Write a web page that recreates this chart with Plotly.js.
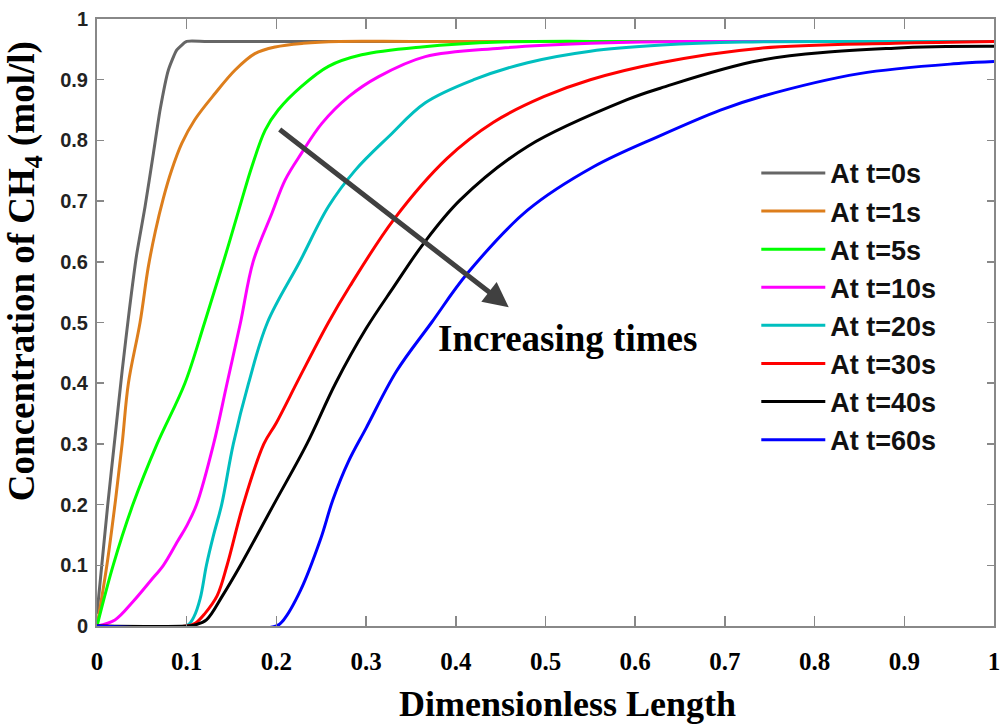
<!DOCTYPE html>
<html>
<head>
<meta charset="utf-8">
<script src="https://cdn.plot.ly/plotly-3.0.1.min.js"></script>
<style>html,body{margin:0;padding:0;background:#fff;}#chart{width:1003px;height:726px;}</style>
</head>
<body>
<div id="chart"></div>
<script>
// Series names
const seriesNames = ["At t=0s", "At t=1s", "At t=5s", "At t=10s", "At t=20s", "At t=30s", "At t=40s", "At t=60s"];

// t = 0 s
const x_t0 = [0, 0.004, 0.012, 0.02, 0.028, 0.036, 0.044, 0.0536, 0.0629, 0.0703, 0.0796, 0.089, 0.1, 0.12, 0.2, 0.4, 0.7, 1];
const y_t0 = [0.02, 0.08, 0.2, 0.31, 0.42, 0.52, 0.61, 0.691, 0.779, 0.85, 0.916, 0.949, 0.963, 0.963, 0.963, 0.963, 0.963, 0.963];
// t = 1 s
const x_t1 = [0, 0.011, 0.02, 0.028, 0.035, 0.048, 0.057, 0.065, 0.074, 0.083, 0.0945, 0.109, 0.132, 0.154, 0.176, 0.1987, 0.23, 0.27, 0.35, 0.5, 0.75, 1];
const y_t1 = [0, 0.1, 0.2, 0.3, 0.4, 0.5, 0.59, 0.65, 0.705, 0.75, 0.795, 0.834, 0.878, 0.916, 0.943, 0.954, 0.96, 0.963, 0.963, 0.963, 0.963, 0.963];
// t = 5 s
const x_t5 = [0, 0.018, 0.04, 0.067, 0.098, 0.12, 0.141, 0.161, 0.1727, 0.1875, 0.202, 0.228, 0.258, 0.295, 0.362, 0.45, 0.6, 0.8, 1];
const y_t5 = [0, 0.1, 0.2, 0.3, 0.4, 0.5, 0.6, 0.7, 0.757, 0.817, 0.85, 0.889, 0.922, 0.941, 0.954, 0.962, 0.963, 0.963, 0.963];
// t = 10 s
const x_t10 = [0, 0.02, 0.04, 0.06, 0.074, 0.09, 0.1, 0.111, 0.13, 0.145, 0.16, 0.174, 0.195, 0.2098, 0.228, 0.2507, 0.2806, 0.314, 0.366, 0.45, 0.55, 0.65, 0.8, 1];
const y_t10 = [0, 0.01, 0.04, 0.075, 0.1, 0.14, 0.165, 0.2, 0.3, 0.4, 0.5, 0.6, 0.68, 0.735, 0.779, 0.828, 0.872, 0.905, 0.938, 0.952, 0.96, 0.963, 0.963, 0.963];
// t = 20 s
const x_t20 = [0, 0.1, 0.108, 0.115, 0.122, 0.13, 0.139, 0.152, 0.169, 0.19, 0.226, 0.258, 0.288, 0.325, 0.366, 0.42, 0.48, 0.55, 0.63, 0.72, 0.85, 1];
const y_t20 = [0, 0, 0.015, 0.045, 0.1, 0.15, 0.2, 0.3, 0.4, 0.5, 0.6, 0.691, 0.751, 0.806, 0.862, 0.9, 0.928, 0.947, 0.957, 0.962, 0.963, 0.963];
// t = 30 s
const x_t30 = [0, 0.1, 0.11, 0.12, 0.134, 0.145, 0.163, 0.186, 0.2, 0.226, 0.258, 0.282, 0.331, 0.39, 0.442, 0.498, 0.55, 0.628, 0.74, 0.89, 1];
const y_t30 = [0, 0, 0.005, 0.02, 0.05, 0.1, 0.2, 0.3, 0.335, 0.41, 0.5, 0.56, 0.67, 0.77, 0.83, 0.872, 0.9, 0.928, 0.952, 0.96, 0.963];
// t = 40 s
const x_t40 = [0, 0.1, 0.11, 0.122, 0.14, 0.16, 0.197, 0.234, 0.266, 0.3, 0.331, 0.364, 0.405, 0.48, 0.591, 0.628, 0.74, 0.889, 1];
const y_t40 = [0, 0, 0.002, 0.01, 0.05, 0.1, 0.2, 0.3, 0.4, 0.49, 0.559, 0.63, 0.702, 0.79, 0.867, 0.886, 0.932, 0.952, 0.955];
// t = 60 s
const x_t60 = [0, 0.2, 0.208, 0.227, 0.249, 0.263, 0.28, 0.3, 0.334, 0.373, 0.413, 0.48, 0.554, 0.628, 0.695, 0.74, 0.85, 0.963, 1];
const y_t60 = [0, 0, 0.01, 0.059, 0.142, 0.208, 0.27, 0.326, 0.42, 0.5, 0.581, 0.685, 0.757, 0.808, 0.85, 0.872, 0.91, 0.927, 0.93];

// Axis ticks
const tickVals = [0, 0.1, 0.2, 0.3, 0.4, 0.5, 0.6, 0.7, 0.8, 0.9, 1];
const tickText = ["0", "0.1", "0.2", "0.3", "0.4", "0.5", "0.6", "0.7", "0.8", "0.9", "1"];

// Arrow annotation (data coordinates)
const arrowStart = [0.202, 0.820];
const arrowEnd = [0.459, 0.525];

const xs = [x_t0, x_t1, x_t5, x_t10, x_t20, x_t30, x_t40, x_t60];
const ys = [y_t0, y_t1, y_t5, y_t10, y_t20, y_t30, y_t40, y_t60];
const colors = ["#666666", "#DD7E1C", "#00FF00", "#FF00FF", "#00BFBF", "#FF0000", "#000000", "#0000FF"];

const traces = seriesNames.map((name, i) => ({
  type: "scatter",
  mode: "lines",
  name: name,
  x: xs[i],
  y: ys[i],
  line: { color: colors[i], width: 3, shape: "spline", smoothing: i === 0 ? 0.5 : 1.0 },
  cliponaxis: true
}));

const serif = "Liberation Serif, Times New Roman, serif";
const sans = "Liberation Sans, Arial, sans-serif";

const layout = {
  width: 1003,
  height: 726,
  margin: { l: 97, r: 9, t: 19, b: 100 },
  paper_bgcolor: "#ffffff",
  plot_bgcolor: "#ffffff",
  showlegend: true,
  legend: {
    x: 0.735, y: 0.786, xanchor: "left", yanchor: "top",
    bgcolor: "rgba(255,255,255,0)",
    font: { family: sans, size: 27, color: "#111", weight: "bold" },
    itemwidth: 64,
    tracegroupgap: 0
  },
  xaxis: {
    range: [0, 1],
    tickmode: "array", tickvals: tickVals, ticktext: tickText,
    ticks: "inside", ticklen: 10, tickwidth: 1.5, tickcolor: "#888",
    showline: true, linecolor: "#888", linewidth: 2, mirror: "ticks",
    showgrid: false, zeroline: false,
    tickfont: { family: serif, size: 25, color: "#000", weight: "bold" },
    ticklabelstandoff: 12,
    fixedrange: true
  },
  yaxis: {
    range: [0, 1],
    tickmode: "array", tickvals: tickVals, ticktext: tickText,
    ticks: "inside", ticklen: 7, tickwidth: 1.5, tickcolor: "#888",
    showline: true, linecolor: "#888", linewidth: 2, mirror: "ticks",
    showgrid: false, zeroline: false,
    tickfont: { family: sans, size: 20, color: "#222", weight: "bold" },
    ticklabelstandoff: 3,
    fixedrange: true
  },
  annotations: [
    {
      xref: "paper", yref: "paper", x: 0.525, y: -0.128,
      xanchor: "center", yanchor: "middle", showarrow: false,
      text: "Dimensionless Length",
      font: { family: serif, size: 36, color: "#000", weight: "bold" }
    },
    {
      xref: "paper", yref: "paper", x: -0.080, y: 0.585,
      xanchor: "center", yanchor: "middle", showarrow: false, textangle: -90,
      text: "Concentration of CH<sub>4</sub> (mol/l)",
      font: { family: serif, size: 37, color: "#000", weight: "bold" }
    },
    {
      xref: "x", yref: "y", x: 0.524, y: 0.473,
      xanchor: "center", yanchor: "middle", showarrow: false,
      text: "Increasing times",
      font: { family: serif, size: 37, color: "#000", weight: "bold" }
    },
    {
      xref: "x", yref: "y", axref: "x", ayref: "y",
      x: arrowEnd[0], y: arrowEnd[1], ax: arrowStart[0], ay: arrowStart[1],
      text: "", showarrow: true, arrowhead: 2, arrowsize: 1, arrowwidth: 5,
      arrowcolor: "#404040", standoff: 0, startstandoff: 0
    }
  ]
};

Plotly.newPlot("chart", traces, layout, { staticPlot: true, displayModeBar: false });
</script>
</body>
</html>
